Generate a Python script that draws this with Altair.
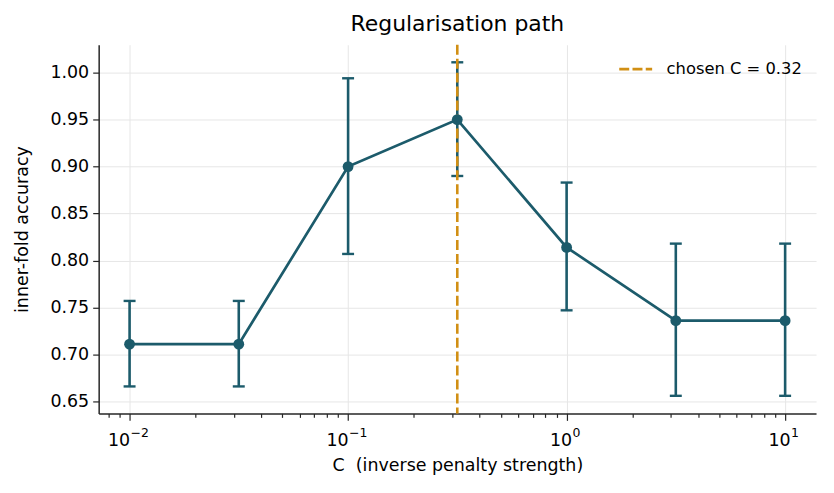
import altair as alt
import pandas as pd

# ---- data ----
C_values = [0.01, 0.0316, 0.1, 0.316, 1.0, 3.16, 10.0]
acc_mean = [0.711, 0.711, 0.900, 0.950, 0.814, 0.736, 0.736]
acc_low = [0.666, 0.666, 0.807, 0.890, 0.747, 0.656, 0.656]
acc_high = [0.757, 0.757, 0.994, 1.011, 0.883, 0.818, 0.818]

chosen_C = [0.316]
chosen_label = ["chosen C = 0.32"]

x_major_ticks = [0.01, 0.1, 1, 10]
x_major_base = ["10", "10", "10", "10"]
x_major_exponents = ["\u22122", "\u22121", "0", "1"]
x_minor_ticks = [0.008, 0.009,
                 0.02, 0.03, 0.04, 0.05, 0.06, 0.07, 0.08, 0.09,
                 0.2, 0.3, 0.4, 0.5, 0.6, 0.7, 0.8, 0.9,
                 2, 3, 4, 5, 6, 7, 8, 9]
y_ticks = [0.65, 0.70, 0.75, 0.80, 0.85, 0.90, 0.95, 1.00]

TEAL = "#1c5b6b"
ORANGE = "#d18f14"
FONT = "DejaVu Sans"
INK = "#262626"

df = pd.DataFrame({"C": C_values, "mean": acc_mean, "lo": acc_low, "hi": acc_high})
df_chosen = pd.DataFrame({"C": chosen_C, "label": chosen_label})

major_test = "indexof([" + ",".join(str(v) for v in x_major_ticks) + "], datum.value) >= 0"


def make_expr(labels):
    return " : ".join(
        f"datum.value == {v} ? '{l}'" for v, l in zip(x_major_ticks, labels)
    ) + " : ''"


x_axis = alt.Axis(
    orient="bottom",
    values=x_major_ticks + x_minor_ticks,
    labelExpr=make_expr(x_major_base),
    labelOverlap=False,
    labelFlush=False,
    labelAlign="right",
    labelOffset={"condition": {"test": "datum.value < 1", "value": 0}, "value": 5},
    tickSize={"condition": {"test": major_test, "value": 7}, "value": 4},
    tickColor=INK,
    tickWidth=1.2,
    gridOpacity={"condition": {"test": major_test, "value": 1}, "value": 0},
    gridColor="#e6e6e6",
    gridWidth=1,
    domainColor=INK,
    domainWidth=1.5,
    labelFont=FONT,
    labelFontSize=17.5,
    labelColor="black",
    labelPadding=11,
    titleFont=FONT,
    titleFontSize=17.5,
    titleFontWeight="normal",
    titleColor="black",
    titlePadding=8,
)

x_axis_sup = alt.Axis(
    orient="bottom",
    values=x_major_ticks,
    labelExpr=make_expr(x_major_exponents),
    labelOverlap=False,
    labelFlush=False,
    labelAlign="left",
    labelOffset={"condition": {"test": "datum.value < 1", "value": 0.5}, "value": 5.5},
    ticks=False,
    tickSize=0,
    grid=False,
    domain=False,
    labelFont=FONT,
    labelFontSize=12.5,
    labelColor="black",
    labelPadding=13,
    title=None,
)

y_axis = alt.Axis(
    values=y_ticks,
    format=".2f",
    tickSize=6,
    tickColor=INK,
    tickWidth=1.2,
    gridColor="#e6e6e6",
    gridWidth=1,
    domainColor=INK,
    domainWidth=1.5,
    labelFont=FONT,
    labelFontSize=17.5,
    labelColor="black",
    labelPadding=4,
    titleFont=FONT,
    titleFontSize=17.5,
    titleFontWeight="normal",
    titleColor="black",
    titlePadding=18,
)

x_scale = alt.Scale(type="log", domain=[0.00722, 13.85], nice=False)
y_scale = alt.Scale(domain=[0.6373, 1.0297], nice=False, zero=False)
X_TITLE = "C\u00a0 (inverse penalty strength)"
Y_TITLE = "inner-fold accuracy"


def X(field="C"):
    return alt.X(f"{field}:Q", scale=x_scale, axis=x_axis, title=X_TITLE)


def Y(field):
    return alt.Y(f"{field}:Q", scale=y_scale, axis=y_axis, title=Y_TITLE)


base = alt.Chart(df)

err = base.mark_rule(color=TEAL, strokeWidth=2.6).encode(x=X(), y=Y("lo"), y2="hi:Q")
cap_lo = base.mark_tick(color=TEAL, thickness=2.4, size=12, orient="horizontal", opacity=1).encode(x=X(), y=Y("lo"))
cap_hi = base.mark_tick(color=TEAL, thickness=2.4, size=12, orient="horizontal", opacity=1).encode(x=X(), y=Y("hi"))
line = base.mark_line(color=TEAL, strokeWidth=2.7).encode(x=X(), y=Y("mean"))

vline = alt.Chart(df_chosen).mark_rule(strokeDash=[10, 4], strokeWidth=2.6).encode(
    x=X(),
    color=alt.Color(
        "label:N",
        scale=alt.Scale(range=[ORANGE]),
        legend=alt.Legend(
            title=None,
            orient="none",
            legendX=521,
            legendY=6.5,
            symbolType="stroke",
            symbolDash=[10, 3.3],
            symbolStrokeWidth=2.6,
            symbolSize=1090,
            labelFont=FONT,
            labelFontSize=16.4,
            labelColor="black",
            labelOffset=13,
        ),
    ),
)

points = base.mark_circle(color=TEAL, size=118, opacity=1).encode(x=X(), y=Y("mean"))

main = alt.layer(err, cap_lo, cap_hi, line, vline, points)

# invisible layer that only carries the superscript exponents of the x tick labels
sup = alt.Chart(df_chosen).mark_rule(strokeOpacity=0).encode(
    x=alt.X("C:Q", scale=x_scale, axis=x_axis_sup)
)

chart = (
    alt.layer(main, sup)
    .resolve_axis(x="independent")
    .properties(
        width=720,
        height=370,
        title=alt.TitleParams(
            "Regularisation path",
            font=FONT,
            fontSize=22,
            fontWeight="normal",
            color="black",
            anchor="middle",
            offset=7,
        ),
        autosize=alt.AutoSizeParams(type="none"),
        padding={"left": 91, "top": 36, "right": 10, "bottom": 70},
        background="white",
    )
    .configure_view(stroke=None)
)

chart.save("out.html", embed_options={"renderer": "svg", "actions": False})
